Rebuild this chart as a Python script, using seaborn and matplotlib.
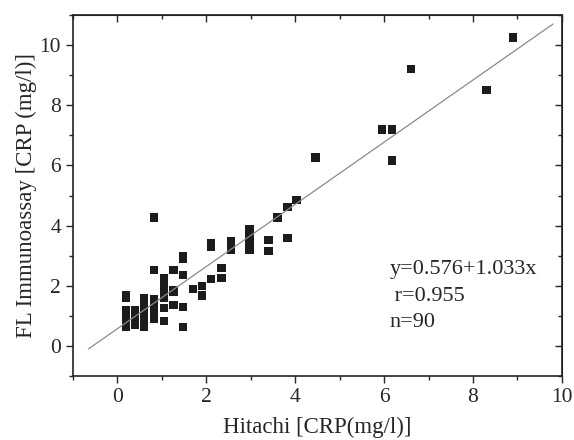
import numpy as np
import pandas as pd
import matplotlib
matplotlib.use("Agg")
import matplotlib.pyplot as plt
import seaborn as sns

# Hitachi (x) vs FL immunoassay (y) CRP values
hitachi = [
    0.2, 0.2, 0.2, 0.2, 0.2, 0.2, 0.2, 0.2,
    0.4, 0.4, 0.4, 0.4, 0.4, 0.4, 0.4, 0.4,
    0.6, 0.6, 0.6, 0.6, 0.6, 0.6, 0.6, 0.6, 0.6, 0.6, 0.6, 0.6,
    0.83, 0.83, 0.83, 0.83, 0.83, 0.83, 0.83, 0.83, 0.83, 0.83, 0.83,
    1.05, 1.05, 1.05, 1.05, 1.05, 1.05, 1.05, 1.05, 1.05, 1.05, 1.05,
    1.26, 1.26, 1.26, 1.26,
    1.48, 1.48, 1.48, 1.48, 1.48, 1.48,
    1.7, 1.9, 1.9,
    2.1, 2.1, 2.1, 2.34, 2.34,
    2.55, 2.55, 2.55,
    2.97, 2.97, 2.97, 2.97, 2.97, 2.97,
    3.4, 3.4, 3.6, 3.83, 3.83, 4.03, 4.46,
    5.95, 6.17, 6.17, 6.6, 8.3, 8.9,
]
fl_immuno = [
    1.68, 1.6, 1.2, 1.0, 0.9, 0.78, 0.72, 0.65,
    1.2, 1.1, 1.05, 0.95, 0.85, 0.8, 0.75, 0.7,
    1.6, 1.5, 1.45, 1.3, 1.2, 1.1, 1.05, 0.95, 0.9, 0.8, 0.7, 0.65,
    4.27, 2.53, 1.55, 1.45, 1.4, 1.3, 1.2, 1.15, 1.05, 1.0, 0.9,
    2.25, 2.15, 2.1, 2.0, 1.95, 1.9, 1.75, 1.7, 1.6, 1.27, 0.83,
    2.53, 1.85, 1.8, 1.37,
    3.0, 2.95, 2.9, 2.37, 1.3, 0.63,
    1.9, 2.0, 1.68,
    3.43, 3.3, 2.23, 2.6, 2.27,
    3.5, 3.35, 3.2,
    3.87, 3.75, 3.6, 3.4, 3.3, 3.2,
    3.53, 3.17, 4.27, 4.63, 3.6, 4.85, 6.27,
    7.2, 7.2, 6.17, 9.2, 8.5, 10.25,
]

# regression line y = a + b*x
intercept = 0.576
slope = 1.033
line_x = [-0.65, 9.8]
stats_text = ["y=0.576+1.033x", " r=0.955", "n=90"]

df = pd.DataFrame({"Hitachi": hitachi, "FL": fl_immuno})
fit = pd.DataFrame({"x": line_x})
fit["y"] = intercept + slope * fit["x"]

sns.set_style("ticks")
plt.rcParams["font.family"] = ["Liberation Serif", "DejaVu Serif"]

fig = plt.figure(figsize=(5.74, 4.40), dpi=100)
ax = fig.add_axes([0.127, 0.145, 0.852, 0.821])

sns.lineplot(data=fit, x="x", y="y", ax=ax, color="#8a8a8a", linewidth=0.9)
sns.scatterplot(data=df, x="Hitachi", y="FL", ax=ax, marker="s", s=36,
                color="#1c1c1c", edgecolor="none", linewidth=0)

ax.set_xlim(-1, 10)
ax.set_ylim(-1, 11)
ax.set_xticks([0, 2, 4, 6, 8, 10])
ax.set_xticks(np.arange(-1, 11, 1), minor=True)
ax.set_yticks([0, 2, 4, 6, 8, 10])
ax.set_yticks(np.arange(-1, 12, 1), minor=True)
ax.tick_params(which="major", direction="out", length=5, width=1, labelsize=15.5)
ax.tick_params(which="minor", direction="out", length=3, width=1)

# inward ticks on top and right
top = ax.secondary_xaxis("top")
top.set_xticks([0, 2, 4, 6, 8, 10])
top.set_xticks(np.arange(-1, 11, 1), minor=True)
top.tick_params(which="both", direction="in", labeltop=False, width=1)
top.tick_params(which="major", length=5)
top.tick_params(which="minor", length=3)
right = ax.secondary_yaxis("right")
right.set_yticks([0, 2, 4, 6, 8, 10])
right.set_yticks(np.arange(-1, 12, 1), minor=True)
right.tick_params(which="both", direction="in", labelright=False, width=1)
right.tick_params(which="major", length=5)
right.tick_params(which="minor", length=3)

for sp in ax.spines.values():
    sp.set_linewidth(1.2)
    sp.set_color("#222222")

ax.set_xlabel("Hitachi [CRP(mg/l)]", fontsize=16.5, labelpad=7)
ax.set_ylabel("FL Immunoassay [CRP (mg/l)]", fontsize=16.5, labelpad=2)

for i, t in enumerate(stats_text):
    ax.text(6.12, 2.53 - i * 0.88, t, fontsize=16, va="center", ha="left")

fig.savefig("out.png", dpi=100)
